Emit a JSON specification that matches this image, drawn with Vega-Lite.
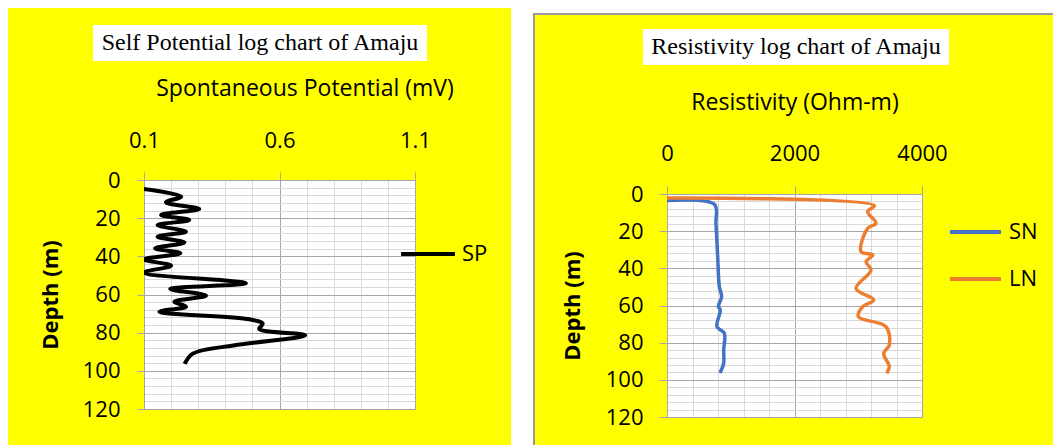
{
  "$schema": "https://vega.github.io/schema/vega-lite/v6.json",
  "background": "#FFFF00",
  "padding": 0,
  "config": {
    "view": {"stroke": null},
    "font": "Open Sans",
    "point": {"opacity": 0, "size": 0, "strokeWidth": 0, "filled": true},
    "axis": {"domainColor": "#a6a6a6", "tickColor": "#a6a6a6", "labelFontSize": 22, "labelColor": "black", "titleColor": "black", "labelOverlap": false, "labelFlush": false, "domainWidth": 1, "gridWidth": 1},
    "legend": {"padding": 0, "labelFontSize": 22, "labelColor": "black", "symbolType": "stroke"}
  },
  "datasets": {
    "blank": [{}],
    "sp": [
      {"depth": 4.7, "value": 0.1, "series": "SP"},
      {"depth": 8.7, "value": 0.237, "series": "SP"},
      {"depth": 11.7, "value": 0.181, "series": "SP"},
      {"depth": 15.2, "value": 0.304, "series": "SP"},
      {"depth": 18.3, "value": 0.163, "series": "SP"},
      {"depth": 21.0, "value": 0.267, "series": "SP"},
      {"depth": 23.6, "value": 0.15, "series": "SP"},
      {"depth": 27.1, "value": 0.255, "series": "SP"},
      {"depth": 29.7, "value": 0.15, "series": "SP"},
      {"depth": 32.7, "value": 0.249, "series": "SP"},
      {"depth": 35.8, "value": 0.141, "series": "SP"},
      {"depth": 38.4, "value": 0.234, "series": "SP"},
      {"depth": 41.6, "value": 0.1, "series": "SP"},
      {"depth": 44.9, "value": 0.2, "series": "SP"},
      {"depth": 48.5, "value": 0.1, "series": "SP"},
      {"depth": 54.1, "value": 0.476, "series": "SP"},
      {"depth": 57.1, "value": 0.197, "series": "SP"},
      {"depth": 60.6, "value": 0.329, "series": "SP"},
      {"depth": 63.8, "value": 0.212, "series": "SP"},
      {"depth": 66.4, "value": 0.255, "series": "SP"},
      {"depth": 69.0, "value": 0.157, "series": "SP"},
      {"depth": 73.0, "value": 0.489, "series": "SP"},
      {"depth": 75.3, "value": 0.538, "series": "SP"},
      {"depth": 78.0, "value": 0.525, "series": "SP"},
      {"depth": 81.4, "value": 0.695, "series": "SP"},
      {"depth": 86.5, "value": 0.44, "series": "SP"},
      {"depth": 91.0, "value": 0.28, "series": "SP"},
      {"depth": 96.4, "value": 0.25, "series": "SP"}
    ],
    "res": [
      {"depth": 3.5, "value": 0, "series": "SN"},
      {"depth": 5.6, "value": 745, "series": "SN"},
      {"depth": 15.8, "value": 768, "series": "SN"},
      {"depth": 33.7, "value": 795, "series": "SN"},
      {"depth": 49.9, "value": 821, "series": "SN"},
      {"depth": 55.3, "value": 857, "series": "SN"},
      {"depth": 60.6, "value": 805, "series": "SN"},
      {"depth": 62.4, "value": 836, "series": "SN"},
      {"depth": 71.4, "value": 784, "series": "SN"},
      {"depth": 75.0, "value": 899, "series": "SN"},
      {"depth": 84.0, "value": 889, "series": "SN"},
      {"depth": 91.0, "value": 889, "series": "SN"},
      {"depth": 96.3, "value": 831, "series": "SN"},
      {"depth": 2.2, "value": 0, "series": "LN"},
      {"depth": 6.3, "value": 3252, "series": "LN"},
      {"depth": 9.5, "value": 3148, "series": "LN"},
      {"depth": 15.8, "value": 3278, "series": "LN"},
      {"depth": 18.5, "value": 3148, "series": "LN"},
      {"depth": 31.0, "value": 3043, "series": "LN"},
      {"depth": 32.8, "value": 3227, "series": "LN"},
      {"depth": 36.4, "value": 3122, "series": "LN"},
      {"depth": 40.9, "value": 3200, "series": "LN"},
      {"depth": 50.8, "value": 2965, "series": "LN"},
      {"depth": 57.0, "value": 3242, "series": "LN"},
      {"depth": 60.6, "value": 3070, "series": "LN"},
      {"depth": 66.0, "value": 3001, "series": "LN"},
      {"depth": 71.4, "value": 3435, "series": "LN"},
      {"depth": 81.3, "value": 3487, "series": "LN"},
      {"depth": 85.8, "value": 3399, "series": "LN"},
      {"depth": 92.9, "value": 3487, "series": "LN"},
      {"depth": 96.5, "value": 3446, "series": "LN"}
    ]
  },
  "spacing": 0,
  "resolve": {"scale": {"color": "independent"}, "legend": {"color": "independent"}},
  "hconcat": [
    {"width": 8, "height": 445, "view": {"fill": "white"}, "data": {"name": "blank"}, "mark": "point"},
    {
      "spacing": 0,
      "resolve": {"scale": {"color": "independent"}, "legend": {"color": "independent"}},
      "vconcat": [
        {"width": 503, "height": 8, "view": {"fill": "white"}, "data": {"name": "blank"}, "mark": "point"},
        {"width": 1, "height": 17, "data": {"name": "blank"}, "mark": "point"},
        {
          "spacing": 0,
          "hconcat": [
            {"width": 85, "height": 36, "data": {"name": "blank"}, "mark": "point"},
            {"width": 334, "height": 36, "view": {"fill": "white"}, "data": {"values": [{"t": "Self Potential log chart of Amaju"}]}, "mark": {"type": "text", "font": "Liberation Serif", "fontSize": 24, "baseline": "middle", "align": "center", "color": "black"}, "encoding": {"text": {"field": "t", "type": "nominal"}}}
          ]
        },
        {"width": 1, "height": 15.5, "data": {"name": "blank"}, "mark": "point"},
        {
          "spacing": 0,
          "resolve": {"scale": {"color": "independent"}, "legend": {"color": "independent"}},
          "hconcat": [
            {"width": 30, "height": 1, "data": {"name": "blank"}, "mark": "point"},
            {
              "width": 271, "height": 229,
              "view": {"fill": "white"},
              "data": {"name": "sp"},
              "mark": {"type": "line", "interpolate": "catmull-rom", "strokeWidth": 4, "clip": true},
              "encoding": {
                "x": {"field": "value", "type": "quantitative", "scale": {"domain": [0.1, 1.1], "nice": false, "zero": false},
                  "axis": {"orient": "top", "values": [0.1, 0.2, 0.3, 0.4, 0.5, 0.6, 0.7, 0.8, 0.9, 1.0, 1.1], "format": ".1f",
                    "labelExpr": "round(datum.value*10) % 5 == 1 ? datum.label : ''",
                    "grid": true,
                    "gridColor": {"condition": {"test": "round(datum.value*10) % 5 == 1", "value": "#a6a6a6"}, "value": "#d9d9d9"},
                    "tickOpacity": {"condition": {"test": "round(datum.value*10) % 5 == 1", "value": 1}, "value": 0},
                    "tickSize": 8, "labelPadding": 32, "labelBaseline": "middle",
                    "title": "Spontaneous Potential (mV)", "titleFontSize": 23, "titleFontWeight": "normal", "titleX": 160.5, "titleY": -92, "titleBaseline": "middle", "titleAlign": "center"}},
                "y": {"field": "depth", "type": "quantitative", "scale": {"domain": [0, 120], "reverse": true, "nice": false, "zero": false},
                  "axis": {"values": [0, 4, 8, 12, 16, 20, 24, 28, 32, 36, 40, 44, 48, 52, 56, 60, 64, 68, 72, 76, 80, 84, 88, 92, 96, 100, 104, 108, 112, 116, 120],
                    "labelExpr": "datum.value % 20 == 0 ? datum.label : ''",
                    "grid": true,
                    "gridColor": {"condition": {"test": "datum.value % 20 == 0", "value": "#a6a6a6"}, "value": "#d9d9d9"},
                    "tickOpacity": {"condition": {"test": "datum.value % 20 == 0", "value": 1}, "value": 0},
                    "tickSize": 7, "labelPadding": 17,
                    "title": "Depth (m)", "titleFontSize": 22, "titleFontWeight": "bold", "titleX": -94, "titleBaseline": "middle"}},
                "color": {"field": "series", "type": "nominal", "scale": {"range": ["#000000"]},
                  "legend": {"orient": "none", "legendX": 255, "legendY": 45, "title": null, "symbolSize": 2900, "symbolStrokeWidth": 4, "labelOffset": 5}},
                "order": {"field": "depth", "type": "quantitative"}
              }
            }
          ]
        }
      ]
    },
    {"width": 22, "height": 445, "view": {"fill": "white"}, "data": {"name": "blank"}, "mark": "point"},
    {
      "spacing": 0,
      "vconcat": [
        {"width": 2, "height": 13, "view": {"fill": "white"}, "data": {"name": "blank"}, "mark": "point"},
        {"width": 2, "height": 432, "view": {"fill": "#999999"}, "data": {"name": "blank"}, "mark": "point"}
      ]
    },
    {
      "spacing": 0,
      "resolve": {"scale": {"color": "independent"}, "legend": {"color": "independent"}},
      "vconcat": [
        {"width": 518, "height": 13, "view": {"fill": "white"}, "data": {"name": "blank"}, "mark": "point"},
        {"width": 518, "height": 2, "view": {"fill": "#999999"}, "data": {"name": "blank"}, "mark": "point"},
        {"width": 1, "height": 14, "data": {"name": "blank"}, "mark": "point"},
        {
          "spacing": 0,
          "hconcat": [
            {"width": 108, "height": 36, "data": {"name": "blank"}, "mark": "point"},
            {"width": 306, "height": 36, "view": {"fill": "white"}, "data": {"values": [{"t": "Resistivity log chart of Amaju"}]}, "mark": {"type": "text", "font": "Liberation Serif", "fontSize": 24, "baseline": "middle", "align": "center", "color": "black"}, "encoding": {"text": {"field": "t", "type": "nominal"}}}
          ]
        },
        {"width": 1, "height": 25.5, "data": {"name": "blank"}, "mark": "point"},
        {
          "spacing": 0,
          "resolve": {"scale": {"color": "independent"}, "legend": {"color": "independent"}},
          "hconcat": [
            {"width": 25.7, "height": 1, "data": {"name": "blank"}, "mark": "point"},
            {
              "width": 255, "height": 223,
              "view": {"fill": "white"},
              "data": {"name": "res"},
              "mark": {"type": "line", "interpolate": "catmull-rom", "strokeWidth": 3.5, "clip": true},
              "encoding": {
                "x": {"field": "value", "type": "quantitative", "scale": {"domain": [0, 4000], "nice": false, "zero": false},
                  "axis": {"orient": "top", "values": [0, 400, 800, 1200, 1600, 2000, 2400, 2800, 3200, 3600, 4000], "format": "d",
                    "labelExpr": "datum.value % 2000 == 0 ? datum.label : ''",
                    "grid": true,
                    "gridColor": {"condition": {"test": "datum.value % 2000 == 0", "value": "#a6a6a6"}, "value": "#d9d9d9"},
                    "tickOpacity": {"condition": {"test": "datum.value % 2000 == 0", "value": 1}, "value": 0},
                    "tickSize": 8, "labelPadding": 33, "labelBaseline": "middle",
                    "title": "Resistivity (Ohm-m)", "titleFontSize": 23, "titleFontWeight": "normal", "titleY": -92, "titleBaseline": "middle"}},
                "y": {"field": "depth", "type": "quantitative", "scale": {"domain": [0, 120], "reverse": true, "nice": false, "zero": false},
                  "axis": {"values": [0, 4, 8, 12, 16, 20, 24, 28, 32, 36, 40, 44, 48, 52, 56, 60, 64, 68, 72, 76, 80, 84, 88, 92, 96, 100, 104, 108, 112, 116, 120],
                    "labelExpr": "datum.value % 20 == 0 ? datum.label : ''",
                    "grid": true,
                    "gridColor": {"condition": {"test": "datum.value % 20 == 0", "value": "#a6a6a6"}, "value": "#d9d9d9"},
                    "tickOpacity": {"condition": {"test": "datum.value % 20 == 0", "value": 1}, "value": 0},
                    "tickSize": 8, "labelPadding": 16,
                    "title": "Depth (m)", "titleFontSize": 22, "titleFontWeight": "bold", "titleX": -94.3, "titleBaseline": "middle"}},
                "color": {"field": "series", "type": "nominal", "scale": {"domain": ["SN", "LN"], "range": ["#4472C4", "#ED7D31"]},
                  "legend": {"orient": "none", "legendX": 281, "legendY": 10.5, "title": null, "symbolSize": 2600, "symbolStrokeWidth": 4, "labelOffset": 6, "rowPadding": 8}},
                "order": {"field": "depth", "type": "quantitative"}
              }
            }
          ]
        }
      ]
    }
  ]
}
